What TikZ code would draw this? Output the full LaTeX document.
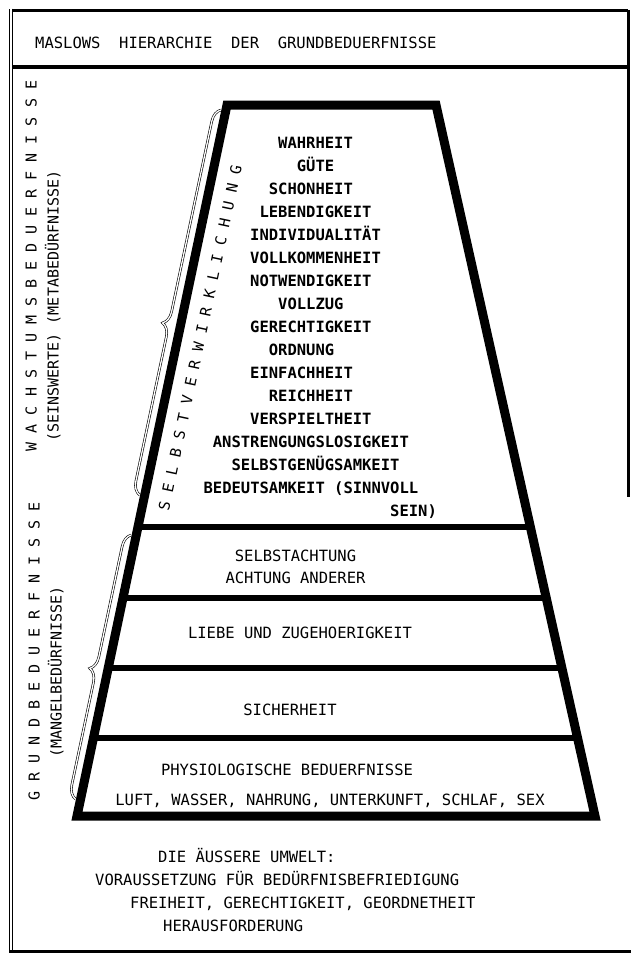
\documentclass[tikz,border=0pt]{standalone}
\usepackage{fontspec}
\setmonofont{DejaVu Sans Mono}
\usetikzlibrary{calc,positioning,decorations.pathreplacing}

\tikzset{
  typed/.style={font=\ttfamily\fontsize{15.5}{18}\selectfont, inner sep=0pt, text height=11pt, text depth=0pt},
  valtext/.style={typed, font=\ttfamily\bfseries\fontsize{15.5}{18}\selectfont, anchor=west},
  sidetext/.style={typed, font=\ttfamily\fontsize{15}{18}\selectfont, rotate=90},
  wall/.style={line width=9pt},
  tier/.style={line width=6pt},
  rim/.style={line width=3pt},
  curly/.style={decorate, decoration={brace, amplitude=13pt, aspect=#1}, double, line width=.6pt, double distance=1.3pt}
}

\begin{document}
\begin{tikzpicture}[x=1pt,y=-1pt,node distance=22pt,on grid]
\useasboundingbox (0,0) rectangle (631,953);

% outer frame and title box
\draw[rim] (9,10) -- (628,10);
\draw[rim] (628,10) -- (628,497);
\draw[line width=4pt] (12,67) -- (628,67);
\draw[line width=1pt, double, double distance=2.5pt] (11,8.5) -- (11,952.5);
\draw[rim] (9,951) -- (631,951);
\node[typed, anchor=west] (title) at (35,43) {MASLOWS~~HIERARCHIE~~DER~~GRUNDBEDUERFNISSE};

% left column
\node[sidetext] (wachstum) at (31,266) {W A C H S T U M S B E D U E R F N I S S E};
\node[sidetext] (seins) at (53,306) {(SEINSWERTE) (METABEDÜRFNISSE)};
\node[sidetext] (grund) at (34,651) {G R U N D B E D U E R F N I S S E};
\node[sidetext] (mangel) at (56,672) {(MANGELBEDÜRFNISSE)};

% pyramid
\coordinate (tl) at (227,105);
\coordinate (tr) at (436,105);
\coordinate (br) at (595,816);
\coordinate (bl) at (77,816);
\draw[wall] (tl) -- (tr) -- (br) -- (bl) -- cycle;
\coordinate (l1) at ($(tl)!0.5935!(bl)$); \coordinate (r1) at ($(tr)!0.5935!(br)$);
\coordinate (l2) at ($(tl)!0.6934!(bl)$); \coordinate (r2) at ($(tr)!0.6934!(br)$);
\coordinate (l3) at ($(tl)!0.7918!(bl)$); \coordinate (r3) at ($(tr)!0.7918!(br)$);
\coordinate (l4) at ($(tl)!0.8903!(bl)$); \coordinate (r4) at ($(tr)!0.8903!(br)$);
\draw[tier] (l1) -- (r1);
\draw[tier] (l2) -- (r2);
\draw[tier] (l3) -- (r3);
\draw[tier] (l4) -- (r4);

% braces
\coordinate (s1) at (139.6,495);
\coordinate (s2) at (220.8,110);
\draw[curly=0.44] (s1) -- (s2);
\coordinate (g1) at (75.5,799);
\coordinate (g2) at (131.2,535);
\draw[curly=0.485] (g1) -- (g2);
\node[sidetext, rotate=-12] (selbst) at (200,338) {S E L B S T V E R W I R K L I C H U N G};

% top tier
\node[valtext] (w1) at (278,143) {WAHRHEIT};
\node[valtext] (w2) at (296.7,166) {GÜTE};
\node[valtext] (w3) at (268.7,189) {SCHONHEIT};
\node[valtext] (w4) at (259.3,212) {LEBENDIGKEIT};
\node[valtext] (w5) at (250,235) {INDIVIDUALITÄT};
\node[valtext] (w6) at (250,258) {VOLLKOMMENHEIT};
\node[valtext] (w7) at (250,281) {NOTWENDIGKEIT};
\node[valtext] (w8) at (278,304) {VOLLZUG};
\node[valtext] (w9) at (250,327) {GERECHTIGKEIT};
\node[valtext] (w10) at (268.7,350) {ORDNUNG};
\node[valtext] (w11) at (250,373) {EINFACHHEIT};
\node[valtext] (w12) at (268.7,396) {REICHHEIT};
\node[valtext] (w13) at (250,419) {VERSPIELTHEIT};
\node[valtext] (w14) at (212.7,442) {ANSTRENGUNGSLOSIGKEIT};
\node[valtext] (w15) at (231.3,465) {SELBSTGENÜGSAMKEIT};
\node[valtext] (w16) at (203.4,488) {BEDEUTSAMKEIT (SINNVOLL};
\node[valtext] (w17) at (390,511) {SEIN)};

% lower tiers
\node[typed] (achtung) at (295.5,556) {SELBSTACHTUNG};
\node[typed] (anderer) [below=of achtung] {ACHTUNG ANDERER};
\node[typed] (liebe) at (300,633) {LIEBE UND ZUGEHOERIGKEIT};
\node[typed] (sicher) at (290,710) {SICHERHEIT};
\node[typed] (physio) at (287,770) {PHYSIOLOGISCHE BEDUERFNISSE};
\node[typed] (luft) at (330,800) {LUFT, WASSER, NAHRUNG, UNTERKUNFT, SCHLAF, SEX};

% environment
\node[typed, anchor=west] (umwelt) at (158,857) {DIE ÄUSSERE UMWELT:};
\node[typed, anchor=west] (voraus) at (95,880) {VORAUSSETZUNG FÜR BEDÜRFNISBEFRIEDIGUNG};
\node[typed, anchor=west] (freiheit) at (130,903) {FREIHEIT, GERECHTIGKEIT, GEORDNETHEIT};
\node[typed, anchor=west] (heraus) at (163,926) {HERAUSFORDERUNG};
\end{tikzpicture}
\end{document}
